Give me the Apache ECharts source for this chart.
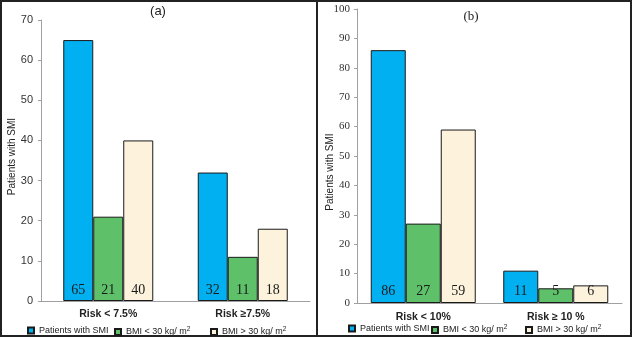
<!DOCTYPE html>
<html>
<head>
<meta charset="utf-8">
<script src="https://cdn.jsdelivr.net/npm/echarts@6/dist/echarts.min.js"></script>
<style>
  html, body { margin: 0; padding: 0; background: #fff; }
  #chart { width: 633px; height: 338px; }
</style>
</head>
<body>
<div id="chart"></div>
<script>
const seriesNames = ['Patients with SMI', 'BMI < 30 kg/ m2', 'BMI > 30 kg/ m2'];
const catsA = ['Risk < 7.5%', 'Risk \u22657.5%'];
const catsB = ['Risk < 10%', 'Risk \u2265 10 %'];
const smiA = [65, 32];
const bmiLowA = [21, 11];
const bmiHighA = [40, 18];
const smiB = [86, 11];
const bmiLowB = [27, 5];
const bmiHighB = [59, 6];

const colors = ['#00b0f0', '#5fc06a', '#fdf2dc'];
const sans = 'Liberation Sans';
const serif = 'Liberation Serif';

const chart = echarts.init(document.getElementById('chart'));

function barSeries(name, data, idx, grid, width, dist) {
  return {
    name: name, type: 'bar', data: data,
    xAxisIndex: grid, yAxisIndex: grid,
    barWidth: width, barGap: '0%',
    itemStyle: { color: colors[idx], borderColor: '#1a1a1a', borderWidth: 1 },
    label: {
      show: true, position: 'insideBottom', distance: dist,
      fontFamily: serif, fontSize: 14, color: '#1a1a1a'
    },
    emphasis: { disabled: true }
  };
}

function legendFmt(n) {
  return n.endsWith('m2') ? n.slice(0, -1) + '{sup|2}' : n;
}

function oneLegend(name, left, top) {
  return {
    data: [name], left: left, top: top, padding: 0,
    icon: 'rect', itemWidth: 6, itemHeight: 6, itemGap: 0,
    formatter: legendFmt,
    textStyle: {
      fontFamily: sans, fontSize: 9, color: '#222',
      rich: { sup: { fontSize: 6.5, verticalAlign: 'top', padding: [0, 0, 5, 0], fontFamily: sans, color: '#222' } }
    },
    selectedMode: false
  };
}

const legendA = [27, 114, 210];
const legendB = [348, 431, 525];

chart.setOption({
  backgroundColor: '#fff',
  animation: false,
  grid: [
    { left: 41, top: 20, width: 269, height: 281 },
    { left: 357, top: 9, width: 265, height: 294 }
  ],
  xAxis: [
    {
      type: 'category', gridIndex: 0, data: catsA,
      axisLine: { lineStyle: { color: '#a0a0a0' } },
      axisTick: { show: false },
      axisLabel: { fontFamily: sans, fontWeight: 'bold', fontSize: 10.5, color: '#222', margin: 8 }
    },
    {
      type: 'category', gridIndex: 1, data: catsB,
      axisLine: { lineStyle: { color: '#a0a0a0' } },
      axisTick: { show: false },
      axisLabel: { fontFamily: sans, fontWeight: 'bold', fontSize: 10.5, color: '#222', margin: 9 }
    }
  ],
  yAxis: [
    {
      type: 'value', gridIndex: 0, min: 0, max: 70, interval: 10,
      name: 'Patients with SMI', nameLocation: 'middle', nameGap: 24, nameMoveOverlap: false,
      nameTextStyle: { fontFamily: sans, fontSize: 10, color: '#222', padding: [0, 0, 0, 8] },
      axisLine: { show: true, lineStyle: { color: '#a0a0a0' } },
      axisTick: { show: true, length: 3, lineStyle: { color: '#a0a0a0' } },
      splitLine: { show: false },
      axisLabel: { fontFamily: sans, fontSize: 11, color: '#333', margin: 8 }
    },
    {
      type: 'value', gridIndex: 1, min: 0, max: 100, interval: 10,
      name: 'Patients with SMI', nameLocation: 'middle', nameGap: 22, nameMoveOverlap: false,
      nameTextStyle: { fontFamily: sans, fontSize: 10, color: '#222', padding: [0, 32, 0, 0] },
      axisLine: { show: true, lineStyle: { color: '#a0a0a0' } },
      axisTick: { show: true, length: 3, lineStyle: { color: '#a0a0a0' } },
      splitLine: { show: false },
      axisLabel: { fontFamily: serif, fontSize: 11, color: '#333', margin: 7 }
    }
  ],
  legend: [
    ...seriesNames.map((n, i) => oneLegend(n, legendA[i], 326)),
    ...seriesNames.map((n, i) => oneLegend(n, legendB[i], 324))
  ],
  series: [
    barSeries(seriesNames[0], smiA, 0, 0, 30, 4),
    barSeries(seriesNames[1], bmiLowA, 1, 0, 30, 4),
    barSeries(seriesNames[2], bmiHighA, 2, 0, 30, 4),
    barSeries(seriesNames[0], smiB, 0, 1, 35, 5),
    barSeries(seriesNames[1], bmiLowB, 1, 1, 35, 5),
    barSeries(seriesNames[2], bmiHighB, 2, 1, 35, 5)
  ],
  graphic: [
    { type: 'rect', shape: { x: 1, y: 1, width: 316, height: 335 }, style: { fill: 'none', stroke: '#222', lineWidth: 2 } },
    { type: 'rect', shape: { x: 317, y: 1, width: 314, height: 335 }, style: { fill: 'none', stroke: '#222', lineWidth: 2 } },
    { type: 'text', x: 158, y: 11, style: { text: '(a)', fontFamily: sans, fontSize: 13, fill: '#222', align: 'center', verticalAlign: 'middle' } },
    { type: 'text', x: 471, y: 17, style: { text: '(b)', fontFamily: serif, fontSize: 13, fill: '#222', align: 'center', verticalAlign: 'middle' } }
  ]
});
</script>
</body>
</html>
